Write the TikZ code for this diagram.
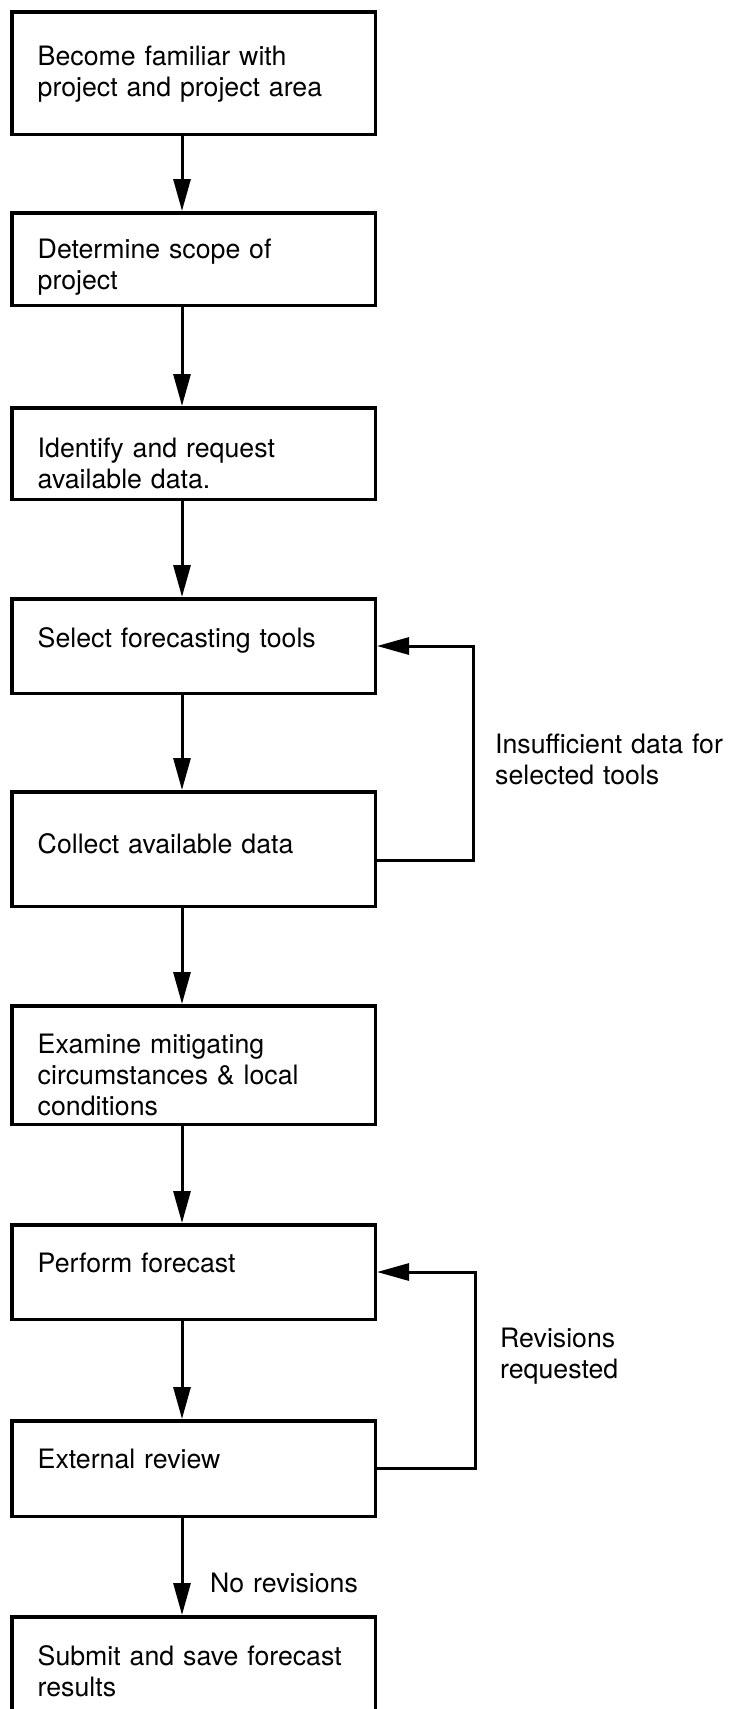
\documentclass[tikz,border=0pt]{standalone}
\usepackage{fontspec}
\setmainfont{TeX Gyre Heros}
\usetikzlibrary{arrows.meta}

\begin{document}
\begin{tikzpicture}[x=1pt,y=-1pt,
  every node/.style={font=\fontsize{26.7}{31}\selectfont},
  stepbox/.style 2 args={draw,line width=3.5pt,anchor=north west,
    text width=311.5pt,align=left,inner xsep=26pt,inner ysep=0pt,
    text height={#1-1.75},text depth={#2-#1-1.75}},
  note/.style={anchor=base west,inner sep=0pt,align=left,text width=236pt},
  flow/.style={line width=3pt,-{Triangle[length=32pt,width=17pt]}}]
  \useasboundingbox (0,0) rectangle (732,1709);
  \coordinate (spine) at (182,0);

  \node[stepbox={55}{126}] (b1) at (10,10) {Become familiar with\\project and project area};
  \node[stepbox={47}{96}] (b2) at (10,211) {Determine scope of\\project};
  \node[stepbox={51}{95}] (b3) at (10,406) {Identify and request\\available data.};
  \node[stepbox={50}{98}] (b4) at (10,597) {Select forecasting tools};
  \node[stepbox={63}{118}] (b5) at (10,790) {Collect available data};
  \node[stepbox={49}{122}] (b6) at (10,1004) {Examine mitigating\\circumstances \& local\\conditions};
  \node[stepbox={49}{98}] (b7) at (10,1223) {Perform forecast};
  \node[stepbox={49}{99}] (b8) at (10,1419) {External review};
  \node[stepbox={50}{145}] (b9) at (10,1615) {Submit and save forecast\\results};

  \foreach \a/\b in {b1/b2,b2/b3,b3/b4,b4/b5,b5/b6,b6/b7,b7/b8,b8/b9}
    \draw[flow] (\a.south -| spine) -- (\b.north -| spine);

  \draw[flow] ([yshift=-11pt]b5.east) -- ++(96,0) |- (b4.east);
  \draw[flow] (b8.east) -- ++(98,0) |- (b7.east);

  \node[note] (tooless) at (495,753) {Insufficient data for\\selected tools};
  \node[note] (redo) at (500,1347) {Revisions\\requested};
  \node[note] (done) at (210,1592) {No revisions};
\end{tikzpicture}
\end{document}
